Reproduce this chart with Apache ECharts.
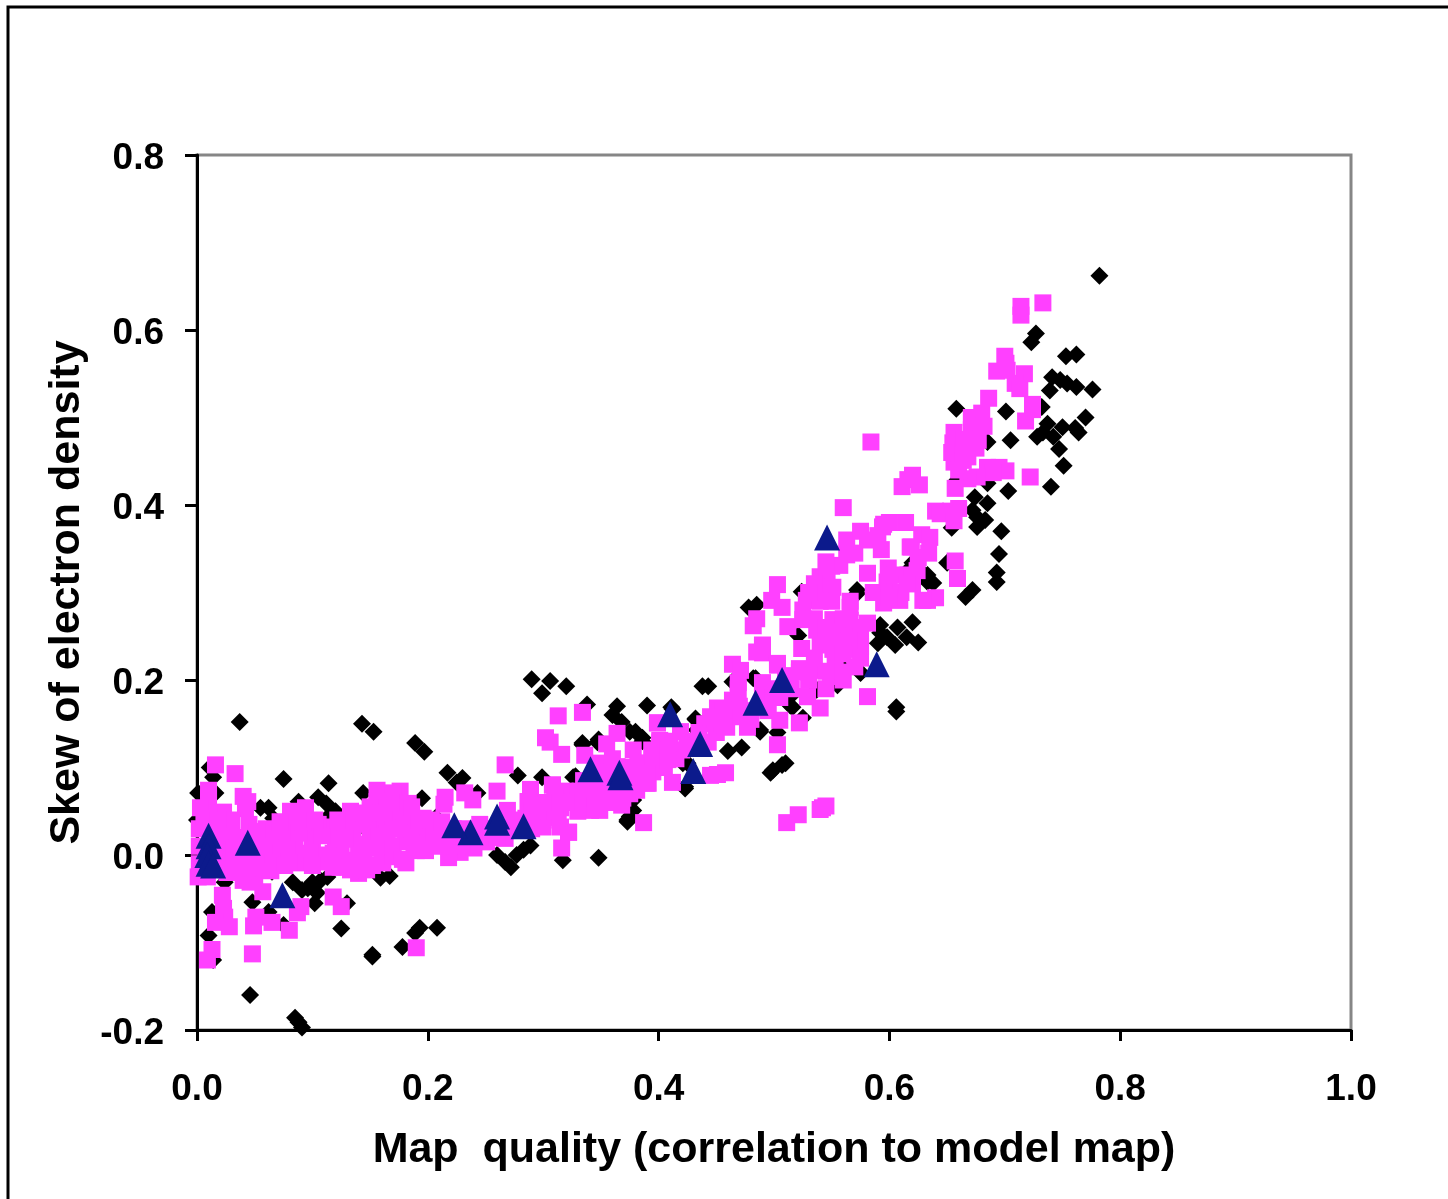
<!DOCTYPE html>
<html><head><meta charset="utf-8">
<script src="https://cdn.jsdelivr.net/npm/echarts@6/dist/echarts.min.js"></script>
<style>html,body{margin:0;padding:0;background:#fff}#c{width:1448px;height:1199px}</style>
</head><body><div id="c"></div>
<script>
const xTickLabels=['0.0','0.2','0.4','0.6','0.8','1.0'];
const yTickLabels=['-0.2','0.0','0.2','0.4','0.6','0.8'];
const xTitle='Map  quality (correlation to model map)';
const yTitle='Skew of electron density';
const blackDiamonds=[
[.782,.662],[.727,.596],[.723,.586],[.753,.570],[.762,.572],[.741,.546],[.748,.543],[.754,.539],[.762,.535],[.776,.532],[.739,.531],[.732,.512],[.701,.507],[.658,.510],[.770,.500],[.737,.493],[.750,.489],[.761,.488],[.764,.483],[.733,.483],[.728,.478],[.742,.478],[.705,.474],[.747,.464],[.751,.445],[.740,.421],[.703,.416],[.685,.472],[.685,.425],[.659,.429],[.674,.409],[.685,.402],[.672,.394],[.676,.386],[.683,.383],[.676,.375],[.654,.374],[.697,.370],[.695,.344],[.650,.334],[.693,.323],[.693,.312],[.672,.303],[.666,.295],[.633,.320],[.633,.312],[.618,.328],[.572,.299],
[.620,.266],[.607,.260],[.615,.249],[.605,.240],[.625,.243],[.592,.263],[.598,.249],[.590,.242],[.575,.208],[.572,.303],[.524,.301],[.521,.251],[.629,.322],[.592,.254],[.638,.311],[.620,.334],
[.478,.283],[.485,.286],[.606,.169],[.606,.164],[.507,.103],[.499,.097],[.497,.094],[.510,.105],[.460,.119],[.472,.123],
[.290,.201],[.306,.199],[.320,.193],[.299,.185],[.338,.172],[.364,.170],[.360,.160],[.390,.171],[.368,.152],[.375,.141],[.386,.134],[.334,.126],[.347,.129],[.278,.091],[.299,.089],[.328,.090],[.373,.040],[.378,.051],
[.411,.169],[.443,.193],[.438,.193],[.484,.202],[.466,.200],[.432,.155],[.436,.145],[.423,.076],[.425,.105],[.514,.171],[.516,.169],[.525,.157],[.488,.143],[.503,.140],[.511,.183],
[.037,.152],[.143,.150],[.153,.141],[.189,.128],[.197,.118],[.217,.094],[.230,.088],[.225,.083],[.075,.087],[.114,.082],[.011,.100],[.014,.089],[.001,.071],[.016,.071],[.144,.071],[.195,.065],[.105,.066],[.112,.059],[.120,.050],[.113,.043],[.055,.054],[.062,.054],[.066,.042],[.088,.061],[.243,.071],[.207,.043],[.326,.089],[.000,.040],[.147,.029],[.124,.032],
[.289,.011],[.260,.000],[.267,-.008],[.272,-.014],[.277,.000],[.283,.006],[.317,-.006],[.348,-.003],[.167,-.024],[.159,-.026],[.083,-.031],[.065,-.019],[.024,-.031],[.113,-.025],[.107,-.029],[.100,-.031],[.096,-.038],[.091,-.040],[.104,-.043],[.102,-.055],[.130,-.055],[.048,-.054],[.062,-.065],[.013,-.065],[.075,-.080],[.125,-.084],[.010,-.092],[.193,-.083],[.208,-.083],[.189,-.089],[.178,-.105],[.152,-.114],[.152,-.116],[.014,-.120],[.046,-.160],[.085,-.186],[.088,-.191],[.091,-.197],
[.375,.044],[.373,.038],[.378,.063],[.423,.078],[.421,.105],[.488,.141],[.514,.181],[.537,.189],[.555,.194],[.575,.209],[.559,.215],[.482,.202],[.464,.198],[.380,.141],[.334,.128],[.348,.132],[.386,.130],[.432,.156],[.433,.143],[.412,.167]
];
const magentaSquares=[
[.016,.103],[.033,.093],[.313,.159],[.302,.134],[.306,.129],[.316,.115],[.267,.103],[.010,.074],[.040,.067],[.044,.061],[.042,.053],[.010,.065],[.289,.074],[.260,.073],[.308,.080],[.317,.072],[.287,.061],[.232,.071],[.215,.066],[.214,.058],[.239,.063],[.156,.074],[.176,.073],[.170,.071],[.183,.059],[.156,.061],[.081,.050],[.094,.054],[.133,.050],[.135,.040],[.023,.049],[.010,.049],[.003,.054],[.196,.042],[.159,.040],[.185,.040],[.269,.051],[.302,.055],[.315,.054],[.300,.032],[.315,.032],[.322,.026],[.316,.008],[.267,.019],[.251,.015],[.228,.003],[.218,-.003],[.181,-.009],[.161,-.009],[.140,-.021],[.133,-.017],[.147,-.017],[.124,-.014],[.089,-.009],[.057,-.042],[.046,-.031],[.040,-.029],[.050,-.025],[.001,-.025],[.009,-.025],[.118,-.048],[.125,-.059],[.090,-.059],[.087,-.066],[.051,-.071],[.049,-.081],[.065,-.077],[.080,-.086],[.022,-.046],[.023,-.061],[.024,-.071],[.016,-.077],[.028,-.082],[.013,-.108],[.009,-.120],[.048,-.113],[.190,-.106],
[.002,.030],[.002,.010],[.002,-.010],[.010,.035],[.012,.020],[.015,.000],[.018,-.015],[.022,.030],[.025,.012],[.028,-.008],[.030,.040],[.035,.020],[.038,.002],[.040,-.018],[.045,.035],[.050,.015],[.055,.000],[.058,-.015],[.060,.030],[.065,.012],[.070,.000],[.075,.025],[.080,.035],[.085,.012],[.090,-.002],[.095,.030],[.100,.015],[.105,.000],[.110,-.008],[.115,.032],[.120,.015],[.125,.000],[.130,-.012],[.135,.025],[.140,.008],[.145,-.005],[.150,.020],[.155,.040],[.160,.005],[.165,.025],[.170,-.002],[.175,.040],[.180,.015],[.185,.025],[.190,.005],[.195,.030],[.200,.015],[.205,.025],[.210,.010],[.215,.030],[.220,.020],[.225,.010],[.235,.020],[.240,.008],[.250,.030],[.260,.020],[.270,.030],[.280,.035],[.290,.030],[.150,.055],[.165,.050],[.175,.055],[.125,.030],[.105,.035],
[.006,.042],[.018,.040],[.030,.022],[.020,.008],[.032,.006],[.045,.005],[.048,-.010],[.036,-.012],[.052,.027],[.058,.010],[.068,.022],[.072,.038],[.066,-.008],[.078,.008],[.080,-.008],[.088,.025],[.098,.002],[.092,.038],[.108,.022],[.102,.040],[.118,.002],[.122,.040],[.128,.018],[.136,.040],[.138,-.006],[.146,.012],[.148,.035],[.152,-.012],[.158,.022],[.162,.048],[.168,.010],[.172,.030],[.178,-.005],[.182,.045],[.188,.012],[.192,.040],[.198,.005],[.203,.040],[.208,.016],[.212,.038],[.218,.010],[.222,.030],[.230,.012],[.232,.030],[.240,.025],[.245,.035],[.255,.025],[.262,.032],[.275,.040],[.285,.042],[.295,.045],[.008,.008],[.008,-.008],[.026,-.020],[.064,-.018],[.076,-.012],[.100,-.012],[.118,-.014],[.155,.008],[.168,.060],[.186,.055],[.145,.048],
[.334,.163],[.364,.139],[.355,.127],[.378,.120],[.336,.114],[.399,.151],[.401,.129],[.395,.117],[.349,.105],[.364,.101],[.382,.105],[.391,.082],[.386,.096],[.289,.075],[.308,.080],[.319,.073],[.287,.061],[.302,.055],[.313,.043],[.332,.073],[.347,.071],[.369,.065],[.368,.057],[.381,.074],[.326,.061],[.341,.051],[.349,.051],[.322,.026],[.387,.037],[.300,.040],[.310,.050],[.330,.050],[.340,.060],[.350,.070],[.360,.080],[.370,.090],[.380,.080],[.350,.090],[.360,.110],[.335,.085],[.355,.060],[.375,.070],
[.330,.060],[.345,.080],[.360,.095],[.370,.075],[.385,.085],[.395,.095],[.405,.100],[.420,.120],[.435,.140],[.450,.140],[.465,.160],[.480,.165],[.490,.180],[.500,.190],[.510,.200],[.470,.170],[.440,.150],[.430,.130],[.410,.130],[.405,.115],[.390,.105],[.375,.100],[.360,.070],[.345,.065],[.330,.070],[.310,.065],[.320,.060],[.340,.075],[.300,.060],[.290,.050],[.415,.110],[.380,.095],[.455,.150],[.480,.155],[.495,.165],[.515,.190],[.505,.180],
[.464,.218],[.471,.211],[.469,.197],[.469,.189],[.490,.231],[.490,.240],[.503,.219],[.522,.213],[.514,.205],[.490,.197],[.499,.180],[.529,.181],[.464,.177],[.451,.168],[.449,.154],[.459,.146],[.477,.146],[.505,.154],[.522,.151],[.503,.126],[.492,.168],[.456,.166],[.471,.158],[.445,.158],[.399,.151],[.419,.141],[.401,.131],[.425,.123],[.443,.129],[.394,.120],[.408,.120],[.395,.105],[.408,.109],[.390,.082],[.390,.094],[.412,.083],[.445,.091],[.458,.094],[.451,.092],
[.560,.397],[.595,.378],[.600,.380],[.614,.380],[.563,.360],[.581,.360],[.593,.349],[.619,.352],[.628,.366],[.640,.393],[.563,.343],[.557,.331],[.570,.345],[.540,.318],[.546,.320],[.540,.309],[.551,.306],[.581,.322],[.599,.328],[.616,.320],[.598,.312],[.586,.300],[.595,.288],[.609,.291],[.633,.291],[.566,.290],[.528,.291],[.525,.280],[.503,.309],[.498,.291],[.507,.283],[.485,.270],[.482,.262],[.512,.261],[.525,.269],[.537,.257],[.551,.269],[.566,.283],[.566,.268],[.581,.265],[.557,.254],[.543,.249],[.575,.238],[.569,.235],[.524,.236],[.490,.238],[.485,.232],[.551,.235],[.553,.220],[.549,.204],[.556,.209],[.503,.217],[.522,.209],[.534,.211],[.581,.181],[.529,.181],[.540,.168],[.511,.037],[.521,.046],[.542,.054],[.545,.056],[.540,.052],
[.535,.270],[.545,.260],[.555,.250],[.560,.270],[.570,.260],[.575,.250],[.565,.245],[.550,.255],[.540,.240],[.560,.230],[.575,.225],[.570,.215],[.560,.200],[.545,.210],[.535,.225],[.530,.200],[.545,.190],[.590,.300],[.600,.310],[.610,.300],[.605,.320],[.550,.330],[.545,.335],[.590,.365],[.575,.370],[.625,.340],[.620,.310],[.600,.295],[.550,.290],[.540,.290],[.535,.310],[.530,.300],
[.733,.631],[.714,.627],[.714,.617],[.700,.570],[.701,.562],[.693,.553],[.702,.554],[.717,.550],[.709,.539],[.713,.533],[.686,.522],[.724,.515],[.724,.509],[.718,.496],[.680,.505],[.671,.500],[.682,.490],[.671,.486],[.656,.483],[.677,.474],[.655,.471],[.654,.460],[.664,.463],[.656,.449],[.664,.451],[.584,.472],[.722,.432],[.695,.443],[.685,.443],[.701,.439],[.690,.437],[.676,.432],[.668,.430],[.657,.419],[.620,.434],[.616,.429],[.611,.421],[.626,.423],[.660,.396],[.644,.390],[.653,.393],[.656,.382],[.594,.375],[.657,.336],[.659,.316],[.635,.363],[.634,.345],[.618,.352],[.624,.325],[.640,.294],[.629,.291],[.615,.310],[.665,.475],[.668,.455],[.660,.440],[.675,.465]
];
const navyTriangles=[
[.546,.363],[.589,.218],[.507,.200],[.484,.174],[.410,.161],[.436,.127],[.430,.096],[.341,.098],[.366,.094],[.367,.089],[.283,.033],[.260,.044],[.260,.037],[.237,.026],[.223,.034],[.074,-.046],[.044,.014],[.010,.022],[.010,.010],[.009,.000],[.010,-.010],[.014,-.012]
];
const chart=echarts.init(document.getElementById('c'),null,{renderer:'canvas'});
const font='"Liberation Sans", Arial, sans-serif';
chart.setOption({
  backgroundColor:'#fff',animation:false,
  graphic:[{type:'rect',z:0,shape:{x:8,y:7,width:1600,height:1400},style:{fill:'none',stroke:'#000',lineWidth:3}}],
  grid:{left:197,top:155,width:1154,height:875,show:true,backgroundColor:'#fff',borderColor:'#868686',borderWidth:3},
  xAxis:{type:'value',min:0,max:1,interval:.2,
    name:xTitle,nameLocation:'middle',nameGap:99,
    nameTextStyle:{fontFamily:font,fontWeight:'bold',fontSize:43,color:'#000'},
    axisLine:{onZero:false,lineStyle:{color:'#000',width:3}},
    axisTick:{show:true,length:11,lineStyle:{color:'#000',width:3}},
    axisLabel:{margin:41,fontFamily:font,fontWeight:'bold',fontSize:37,color:'#000',formatter:(v,i)=>xTickLabels[Math.round(v/.2)],showMinLabel:true,showMaxLabel:true},
    splitLine:{show:false}},
  yAxis:{type:'value',min:-.2,max:.8,interval:.2,
    name:yTitle,nameLocation:'middle',nameGap:108,
    nameTextStyle:{fontFamily:font,fontWeight:'bold',fontSize:43,color:'#000'},
    axisLine:{onZero:false,lineStyle:{color:'#000',width:3}},
    axisTick:{show:true,length:12,lineStyle:{color:'#000',width:3}},
    axisLabel:{margin:33,verticalAlign:'top',lineHeight:8,fontFamily:font,fontWeight:'bold',fontSize:37,color:'#000',formatter:(v,i)=>yTickLabels[Math.round((v+.2)/.2)],showMinLabel:true,showMaxLabel:true},
    splitLine:{show:false}},
  series:[
    {type:'scatter',name:'black',data:blackDiamonds,symbol:'diamond',symbolSize:18,itemStyle:{color:'#000',opacity:1},clip:false,z:2,large:false},
    {type:'scatter',name:'magenta',data:magentaSquares,symbol:'rect',symbolSize:17,itemStyle:{color:'#ff40ff',opacity:1},clip:false,z:3,large:false},
    {type:'scatter',name:'navy',data:navyTriangles,symbol:'triangle',symbolSize:[26,26],itemStyle:{color:'#0c1a8c',opacity:1},clip:false,z:4,large:false}
  ]
});
</script></body></html>
